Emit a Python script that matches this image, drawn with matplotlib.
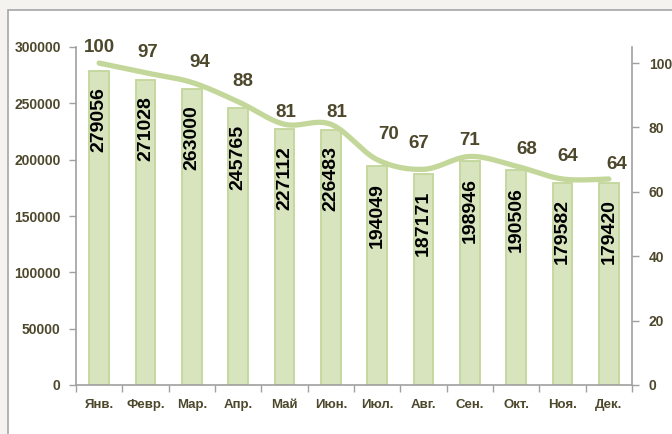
import numpy as np
import matplotlib
matplotlib.use("Agg")
import matplotlib.pyplot as plt
from matplotlib.patches import Rectangle

months = ["Янв.", "Февр.", "Мар.", "Апр.", "Май", "Июн.", "Июл.", "Авг.", "Сен.", "Окт.", "Ноя.", "Дек."]
volumes = [279056, 271028, 263000, 245765, 227112, 226483, 194049, 187171, 198946, 190506, 179582, 179420]
index_vals = [100, 97, 94, 88, 81, 81, 70, 67, 71, 68, 64, 64]

# label nudges for the index line (pixels: dx, dy)
label_nudge = [(0, 16), (2, 20), (8, 20), (5, 20), (1, 12), (6, 12),
               (11, 25), (-5, 26), (0, 16), (11, 17), (5, 22), (8, 14)]

txt = "#4d482c"
bar_fill = "#d7e4bd"
bar_edge = "#c3d69b"
line_col = "#c4d79b"
spine_col = "#a0a0a0"

plt.rcParams['font.family'] = ['Liberation Sans', 'DejaVu Sans']
plt.rcParams['font.weight'] = 'bold'

fig = plt.figure(figsize=(6.72, 4.34), dpi=100)
fig.patch.set_facecolor("#f4f3ef")
# chart area frame
fig.patches.append(Rectangle((8 / 672, -0.1), 1.0, 1 - 10 / 434 + 0.1,
                             transform=fig.transFigure, facecolor="white",
                             edgecolor="#a6a6a6", linewidth=1.2, zorder=-5))

ax = fig.add_axes([76 / 672, 1 - 385 / 434, (632 - 76) / 672, (385 - 47) / 434])
ax.set_facecolor("none")
x = np.arange(len(months))

bars = ax.bar(x, volumes, width=0.43, color=bar_fill, edgecolor=bar_edge, linewidth=1.3, zorder=2)
for xi, v in zip(x, volumes):
    ax.annotate(str(v), (xi, v), xytext=(0, -12), textcoords="offset points",
                rotation=90, ha="center", va="top", fontsize=14, fontweight="bold",
                color="black", zorder=5)

ax.set_xlim(-0.5, len(months) - 0.5)
ax.set_ylim(0, 300000)
ax.set_yticks(np.arange(0, 300001, 50000))
ax.set_xticks(x)
ax.set_xticklabels(months)
ax.set_xticks(np.arange(-0.5, len(months), 1), minor=True)
ax.tick_params(axis="x", which="major", length=0, pad=10, labelsize=9.5, labelcolor=txt)
ax.tick_params(axis="x", which="minor", length=5, width=1, color=spine_col, direction="out")
ax.tick_params(axis="y", length=5, width=1, color=spine_col, pad=6, labelsize=10, labelcolor=txt)
for lab in ax.get_xticklabels() + ax.get_yticklabels():
    lab.set_fontweight("bold")
ax.spines["top"].set_visible(False)
ax.spines["right"].set_visible(False)
for s in ("left", "bottom"):
    ax.spines[s].set_color(spine_col)
    ax.spines[s].set_linewidth(1.2)

ax2 = ax.twinx()
ax2.set_ylim(0, 105)
ax2.set_yticks(np.arange(0, 101, 20))
ax2.tick_params(axis="y", length=5, width=1, color=spine_col, pad=7, labelsize=10, labelcolor=txt)
for lab in ax2.get_yticklabels():
    lab.set_fontweight("bold")
for s in ("top", "left", "bottom"):
    ax2.spines[s].set_visible(False)
ax2.spines["right"].set_color(spine_col)
ax2.spines["right"].set_linewidth(1.2)

# smoothed line (Catmull-Rom, like Excel's smoothed line)
pts = np.column_stack([x, index_vals]).astype(float)
ext = np.vstack([pts[0], pts, pts[-1]])
sx, sy = [], []
t = np.linspace(0, 1, 30)
for i in range(1, len(ext) - 2):
    p0, p1, p2, p3 = ext[i - 1], ext[i], ext[i + 1], ext[i + 2]
    c1 = p1 + (p2 - p0) / 6
    c2 = p2 - (p3 - p1) / 6
    seg = ((1 - t)[:, None] ** 3 * p1 + 3 * ((1 - t) ** 2 * t)[:, None] * c1
           + 3 * ((1 - t) * t ** 2)[:, None] * c2 + (t ** 3)[:, None] * p2)
    sx.extend(seg[:, 0])
    sy.extend(seg[:, 1])
ax2.plot(sx, sy, color=line_col, linewidth=3.8, solid_capstyle="round", zorder=4)

for xi, v, (dx, dy) in zip(x, index_vals, label_nudge):
    ax2.annotate(str(v), (xi, v), xytext=(dx * 0.72, dy * 0.72), textcoords="offset points",
                 ha="center", va="center", fontsize=13.5, fontweight="bold", color=txt, zorder=6)

fig.savefig("out.png", dpi=100, facecolor=fig.get_facecolor())
